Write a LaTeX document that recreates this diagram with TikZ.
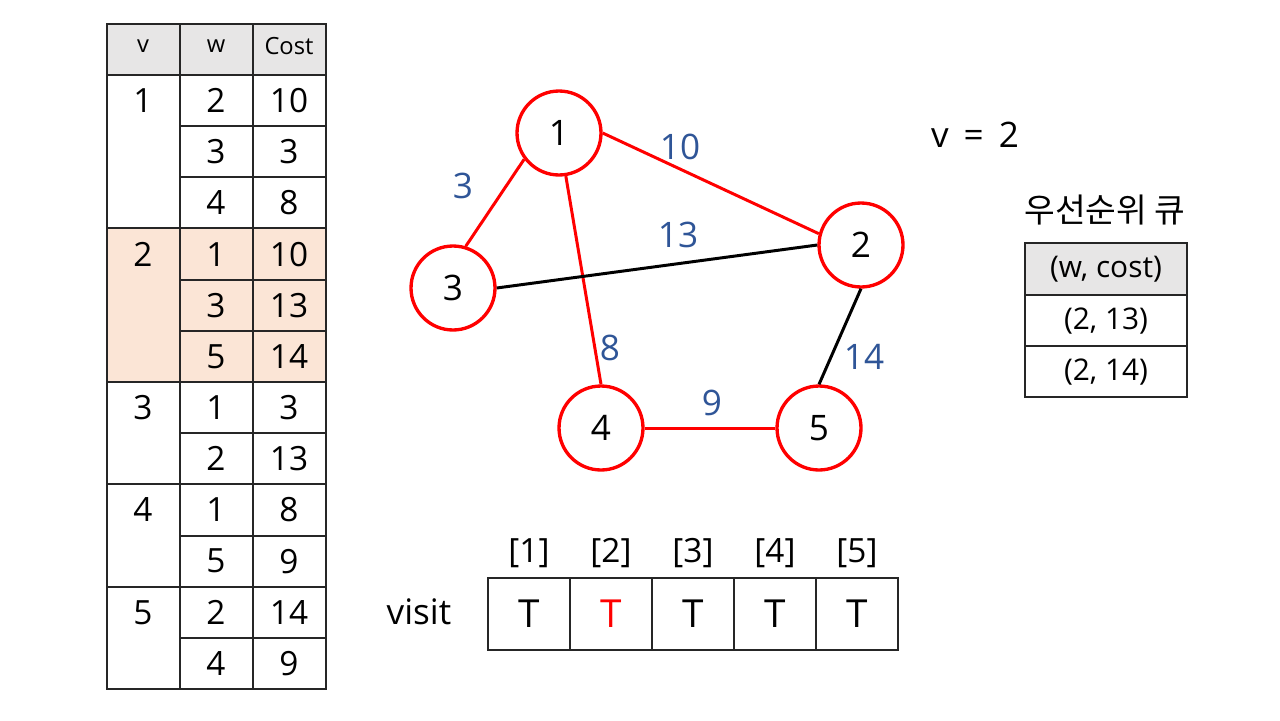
\documentclass[tikz,border=0pt]{standalone}
\usepackage{fontspec}
\setmainfont{Open Sans}
\newfontfamily\krfont{Noto Sans CJK KR}
\usetikzlibrary{positioning}

\definecolor{hdgray}{HTML}{E7E6E6}
\definecolor{peach}{HTML}{FBE5D6}
\definecolor{lblblue}{HTML}{2F5597}
\definecolor{vred}{HTML}{FF0000}

\tikzset{
  tline/.style={draw=black!85, line width=0.8pt},
  cell/.style={font=\fontsize{19}{22}\selectfont},
  hcell/.style={font=\fontsize{13.5}{16}\selectfont},
  vtx/.style={circle, draw=vred, line width=1.9pt, fill=white, minimum size=1.68cm, inner sep=0pt, font=\fontsize{20}{24}\selectfont},
  redge/.style={draw=vred, line width=1.7pt},
  bedge/.style={draw=black, line width=1.7pt},
  wlbl/.style={text=lblblue, font=\fontsize{20}{24}\selectfont},
  vcell/.style={draw=black!85, line width=0.8pt, minimum width=1.64cm, minimum height=1.44cm, inner sep=0pt, font=\fontsize{22}{26}\selectfont}
}

\begin{document}
\begin{tikzpicture}[x=0.02cm, y=-0.02cm]
    \useasboundingbox (0,0) rectangle (1280,720);
    %Adjacency table
        \fill[hdgray] (107,24) rectangle (326,75);
        \fill[peach] (107,228) rectangle (326,382);
        \draw[tline] (107,24) rectangle (326,689);
        \draw[tline] (180,24) -- (180,689);
        \draw[tline] (253,24) -- (253,689);
        \foreach \y in {75,228,382,484,587}
            \draw[tline] (107,\y) -- (326,\y);
        \foreach \y in {126,177,280,331,433,536,638}
            \draw[tline] (180,\y) -- (326,\y);
        \node[hcell] (hv) at (143,46) {v};
        \node[hcell] (hw) at (216,46) {w};
        \node[hcell] (hc) at (289,46) {Cost};
        \foreach \w/\c [count=\i] in {2/10,3/3,4/8,1/10,3/13,5/14,1/3,2/13,1/8,5/9,2/14,4/9}
        {
            \pgfmathsetmacro{\y}{75+51.17*(\i-0.5)}
            \node[cell] (w\i) at (216,\y) {\w};
            \node[cell] (c\i) at (289,\y) {\c};
        }
        \foreach \v/\r in {1/1,2/4,3/7,4/9,5/11}
        {
            \pgfmathsetmacro{\y}{75+51.17*(\r-0.5)}
            \node[cell] (v\v) at (143,\y) {\v};
        }
    %Graph edges
        \node[vtx] (n1) at (559,133) {1};
        \node[vtx] (n2) at (861,245) {2};
        \node[vtx] (n3) at (453,288) {3};
        \node[vtx] (n4) at (601,428) {4};
        \node[vtx] (n5) at (819,428) {5};
        \draw[redge] (n1.east) -- (n2.165);
        \draw[redge] (n1.217) -- (n3.73);
        \draw[redge] (n1.-81) -- (n4.north);
        \draw[bedge] (n3.east) -- (n2.west);
        \draw[bedge] (n2.south) -- (n5.north);
        \draw[redge] (n4.east) -- (n5.west);
    %Weights
        \node[wlbl] (l12) at (680,147) {10};
        \node[wlbl] (l13) at (463,186) {3};
        \node[wlbl] (l32) at (678,235) {13};
        \node[wlbl] (l14) at (610,348) {8};
        \node[wlbl] (l25) at (864,357) {14};
        \node[wlbl] (l45) at (712,403) {9};
    %Current vertex
        \node[font=\fontsize{20}{24}\selectfont] (cur) at (975,135) {v \,=\, 2};
    %Priority queue
        \node[font=\krfont\fontsize{19}{22}\selectfont] (pqt) at (1105,210) {우선순위 큐};
        \fill[hdgray] (1025,243) rectangle (1187,295);
        \draw[tline] (1025,243) rectangle (1187,397);
        \draw[tline] (1025,295) -- (1187,295);
        \draw[tline] (1025,346) -- (1187,346);
        \node[cell, font=\fontsize{17}{20}\selectfont] (qh) at (1106,269) {(w, cost)};
        \node[cell, font=\fontsize{17}{20}\selectfont] (q1) at (1106,321) {(2, 13)};
        \node[cell, font=\fontsize{17}{20}\selectfont] (q2) at (1106,372) {(2, 14)};
    %Visit array
        \node[font=\fontsize{20}{24}\selectfont] (visit) at (419,612) {visit};
        \foreach \t/\col [count=\i] in {T/black,T/vred,T/black,T/black,T/black}
        {
            \node[vcell, text=\col] (s\i) at ({529+82*(\i-1)},614) {\t};
            \node[font=\fontsize{19}{22}\selectfont] (idx\i) at ({529+82*(\i-1)},553) {[\i]};
        }
\end{tikzpicture}
\end{document}
